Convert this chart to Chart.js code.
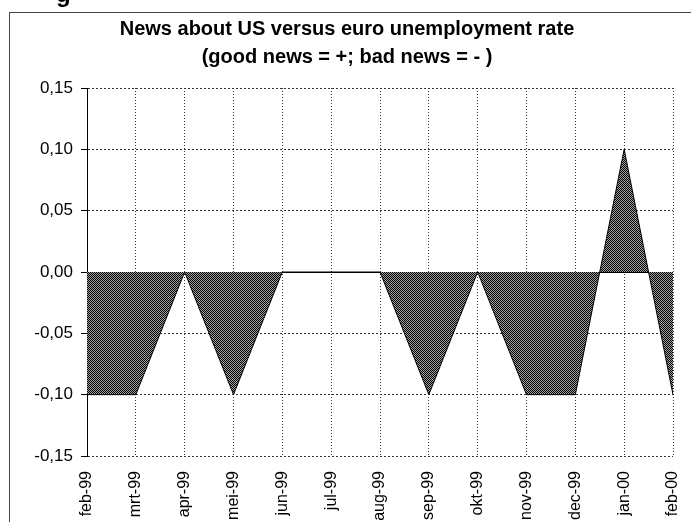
<!DOCTYPE html>
<html>
<head>
<meta charset="utf-8">
<script src="https://cdn.jsdelivr.net/npm/chart.js@4"></script>
<style>
  html, body { margin: 0; padding: 0; background: #fff; overflow: hidden; }
  #wrap { width: 691px; height: 522px; overflow: hidden; position: relative; }
</style>
</head>
<body>
<div id="wrap"><canvas id="newsChart" width="691" height="580"></canvas></div>
<script>
// months along the x axis
const months = ["feb-99", "mrt-99", "apr-99", "mei-99", "jun-99", "jul-99", "aug-99",
  "sep-99", "okt-99", "nov-99", "dec-99", "jan-00", "feb-00"];
// news value: good news = +, bad news = -
const newsValues = [-0.10, -0.10, 0, -0.10, 0, 0, 0, -0.10, 0, -0.10, -0.10, 0.10, -0.10];
const yTicks = [-0.15, -0.10, -0.05, 0, 0.05, 0.10, 0.15];
const titleLines = ["News about US versus euro unemployment rate", "(good news = +; bad news = - )"];

const FONT = "'Liberation Sans', Arial, sans-serif";

// fine checker pattern like the printed hatch
function hatchPattern() {
  const c = document.createElement("canvas");
  c.width = 2; c.height = 2;
  const g = c.getContext("2d");
  g.fillStyle = "#a0a0a0";
  g.fillRect(0, 0, 2, 2);
  g.fillStyle = "#000";
  g.fillRect(0, 0, 1, 1);
  g.fillRect(1, 1, 1, 1);
  return g.createPattern(c, "repeat");
}

// outer chart frame plus the clipped letter of the page heading above it
const framePlugin = {
  id: "frame",
  beforeDraw(chart) {
    const ctx = chart.ctx;
    ctx.save();
    ctx.strokeStyle = "#444";
    ctx.lineWidth = 1;
    ctx.strokeRect(9.5, 12.5, 760, 700);
    ctx.fillStyle = "#000";
    ctx.font = "bold 24px " + FONT;
    ctx.textBaseline = "alphabetic";
    ctx.fillText("g", 56, 2);
    ctx.restore();
  }
};

const ctx = document.getElementById("newsChart").getContext("2d");

new Chart(ctx, {
  type: "line",
  data: {
    labels: months,
    datasets: [{
      label: "News",
      data: newsValues,
      borderColor: "#000",
      borderWidth: 1,
      backgroundColor: hatchPattern(),
      fill: "origin",
      tension: 0,
      pointRadius: 0
    }]
  },
  options: {
    responsive: false,
    animation: false,
    layout: { padding: { left: 21, right: 18, top: 0, bottom: 0 } },
    plugins: {
      legend: { display: false },
      tooltip: { enabled: false },
      title: {
        display: true,
        text: titleLines,
        color: "#000",
        font: { family: FONT, size: 20, weight: "bold", lineHeight: 1.4 },
        padding: { top: 15, bottom: 17 }
      }
    },
    scales: {
      x: {
        offset: false,
        grid: {
          offset: false,
          color: "#333",
          drawTicks: false
        },
        border: { display: false, dash: [1, 2] },
        ticks: {
          color: "#000",
          font: { family: FONT, size: 16 },
          minRotation: 90,
          maxRotation: 90,
          padding: 15,
          autoSkip: false
        },
        afterFit(scale) {
          scale.height = 124;
          scale.paddingLeft = 0;
          scale.paddingRight = 0;
        }
      },
      y: {
        min: -0.15,
        max: 0.15,
        afterBuildTicks(scale) {
          scale.ticks = yTicks.map(v => ({ value: v }));
        },
        grid: {
          color: ctx => ctx.tick && ctx.tick.value === 0 ? "#000" : "#333",
          tickColor: "#000",
          tickLength: 6,
          tickBorderDash: []
        },
        border: {
          display: true,
          color: "#000",
          width: 1,
          dash: ctx => ctx.tick && ctx.tick.value === 0 ? [] : [2, 2]
        },
        ticks: {
          color: "#000",
          font: { family: FONT, size: 17 },
          padding: 8,
          callback: v => v.toFixed(2).replace(".", ",")
        },
        afterFit(scale) {
          scale.width = 66;
          scale.paddingTop = 0;
          scale.paddingBottom = 0;
        }
      }
    }
  },
  plugins: [framePlugin]
});
</script>
</body>
</html>
